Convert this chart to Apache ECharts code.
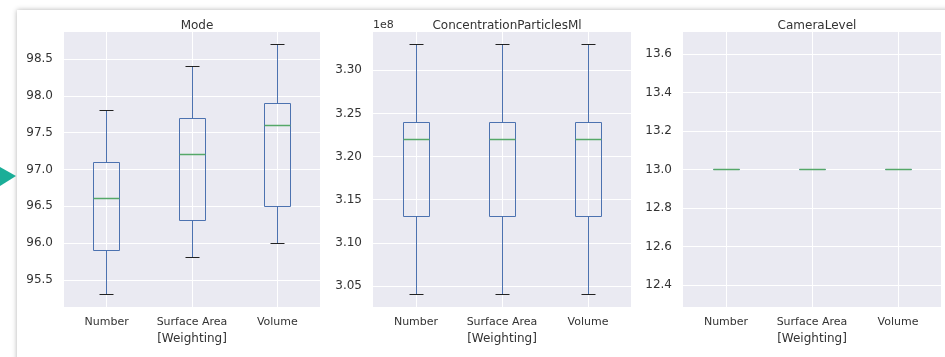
<!DOCTYPE html>
<html>
<head>
<meta charset="utf-8">
<script src="https://cdn.jsdelivr.net/npm/echarts@6/dist/echarts.min.js"></script>
<style>
  html, body { margin: 0; padding: 0; background: #fff; }
  #chart { width: 945px; height: 357px; }
</style>
</head>
<body>
<div id="chart"></div>
<script>
// categories (x positions 1..3)
const categories = ['Number', 'Surface Area', 'Volume'];

// [min, q1, median, q3, max] per category
const modeStats = [
    [95.3, 95.9, 96.6, 97.1, 97.8],
    [95.8, 96.3, 97.2, 97.7, 98.4],
    [96.0, 96.5, 97.6, 97.9, 98.7]
];
const concStats = [
    [3.04e8, 3.13e8, 3.22e8, 3.24e8, 3.33e8],
    [3.04e8, 3.13e8, 3.22e8, 3.24e8, 3.33e8],
    [3.04e8, 3.13e8, 3.22e8, 3.24e8, 3.33e8]
];
const cameraStats = [
    [13, 13, 13, 13, 13],
    [13, 13, 13, 13, 13],
    [13, 13, 13, 13, 13]
];

// tick labels
const modeTicks = [95.5, 96.0, 96.5, 97.0, 97.5, 98.0, 98.5];
const concTicks = [3.05e8, 3.10e8, 3.15e8, 3.20e8, 3.25e8, 3.30e8];
const cameraTicks = [12.4, 12.6, 12.8, 13.0, 13.2, 13.4, 13.6];

const titles = ['Mode', 'ConcentrationParticlesMl', 'CameraLevel'];

// === СТИЛИ ===
const BOX = '#4C72B0';
const MEDIAN = '#55A868';
const CAP = '#222';
const TEXT = '#333';
const FONT = 'DejaVu Sans';

const chart = echarts.init(document.getElementById('chart'));

const grids = [
    { left: 64, top: 32, width: 256, height: 275 },
    { left: 373, top: 32, width: 258, height: 275 },
    { left: 683, top: 32, width: 258, height: 275 }
];

// snap to pixel centre so 1px lines stay crisp
const snap = v => Math.round(v - 0.5) + 0.5;

function renderBox(params, api) {
    const x = api.value(0);
    const cx = snap(api.coord([x, api.value(1)])[0]);
    const y = k => snap(api.coord([x, api.value(k)])[1]);
    const yMin = y(1), yQ1 = y(2), yMed = y(3), yQ3 = y(4), yMax = y(5);
    const half = 13, capHalf = 7;
    const line = (x1, y1, x2, y2, color, w, z2) => ({
        type: 'line',
        z2: z2 || 0,
        shape: { x1: x1, y1: y1, x2: x2, y2: y2 },
        style: { stroke: color, lineWidth: w || 1 }
    });
    return {
        type: 'group',
        children: [
            line(cx, yMin, cx, yQ1, BOX),
            line(cx, yQ3, cx, yMax, BOX),
            line(cx - capHalf, yMin, cx + capHalf, yMin, CAP),
            line(cx - capHalf, yMax, cx + capHalf, yMax, CAP),
            {
                type: 'rect',
                shape: { x: cx - half, y: yQ3, width: half * 2, height: yQ1 - yQ3 },
                style: { fill: 'none', stroke: BOX, lineWidth: 1 }
            },
            line(cx - half, yMed, cx + half, yMed, MEDIAN, 1.5, 10)
        ]
    };
}

function toData(stats) {
    return stats.map((s, i) => [i + 1].concat(s));
}

const yRanges = [
    { min: 95.13, max: 98.87, ticks: modeTicks, fmt: v => v.toFixed(1) },
    { min: 3.0255e8, max: 3.3445e8, ticks: concTicks, fmt: v => (v / 1e8).toFixed(2) },
    { min: 12.285, max: 13.715, ticks: cameraTicks, fmt: v => v.toFixed(1) }
];
const allStats = [modeStats, concStats, cameraStats];
const centers = [192, 502, 812];

const option = {
    backgroundColor: '#fff',
    animation: false,
    title: titles.map((t, i) => ({
        text: t,
        left: centers[i],
        top: 15,
        textAlign: 'center',
        textStyle: { fontFamily: FONT, fontSize: 12, fontWeight: 'normal', color: TEXT }
    })),
    graphic: [
        {
            type: 'rect',
            shape: { x: 17, y: 10, width: 960, height: 400 },
            style: { fill: '#fff', shadowColor: 'rgba(0,0,0,0.3)', shadowBlur: 5 },
            z: -10
        },
        {
            type: 'polygon',
            shape: { points: [[0, 167], [0, 186], [16, 176]] },
            style: { fill: '#1BAE98' }
        }
    ],
    grid: grids.map(g => Object.assign({
        show: true,
        backgroundColor: '#EAEAF2',
        borderWidth: 0,
        containLabel: false
    }, g)),
    xAxis: grids.map((g, i) => ({
        type: 'value',
        gridIndex: i,
        min: 0.5,
        max: 3.5,
        name: '[Weighting]',
        nameLocation: 'middle',
        nameGap: 25,
        nameTextStyle: { fontFamily: FONT, fontSize: 12, color: TEXT, verticalAlign: 'top' },
        axisLine: { show: false },
        axisTick: { show: false, customValues: [1, 2, 3] },
        axisLabel: {
            customValues: [1, 2, 3],
            formatter: v => categories[Math.round(v) - 1],
            fontFamily: FONT, fontSize: 11, color: TEXT, margin: 10
        },
        splitLine: { show: true, lineStyle: { color: '#fff', width: 1 } }
    })),
    yAxis: yRanges.map((r, i) => ({
        type: 'value',
        gridIndex: i,
        min: r.min,
        max: r.max,
        name: i === 1 ? '1e8' : '',
        nameLocation: 'end',
        nameGap: 7,
        nameTextStyle: { fontFamily: FONT, fontSize: 11, color: TEXT, align: 'left', verticalAlign: 'middle' },
        axisLine: { show: false },
        axisTick: { show: false, customValues: r.ticks },
        axisLabel: {
            customValues: r.ticks,
            formatter: r.fmt,
            fontFamily: FONT, fontSize: 12, color: TEXT, margin: 11
        },
        splitLine: { show: true, lineStyle: { color: '#fff', width: 1 } }
    })),
    series: allStats.map((s, i) => ({
        type: 'custom',
        xAxisIndex: i,
        yAxisIndex: i,
        renderItem: renderBox,
        encode: { x: 0, y: [1, 2, 3, 4, 5] },
        data: toData(s),
        clip: false
    }))
};

chart.setOption(option);
</script>
</body>
</html>
